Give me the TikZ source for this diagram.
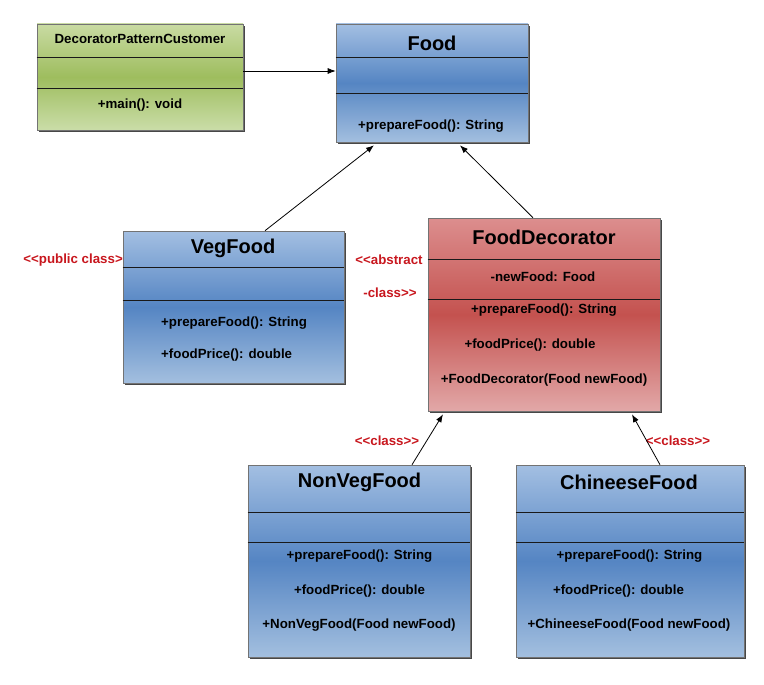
\documentclass[tikz,border=0pt]{standalone}
\usepackage{fontspec}
\setmainfont{Liberation Sans}
\usetikzlibrary{arrows.meta,shadows}
\definecolor{bluetop}{HTML}{A3BFE2}
\definecolor{bluemid}{HTML}{5585C3}
\definecolor{bluebot}{HTML}{A3BFDF}
\definecolor{greentop}{HTML}{C9DBA3}
\definecolor{greenmid}{HTML}{9EBD5E}
\definecolor{greenbot}{HTML}{CADDA8}
\definecolor{redtop}{HTML}{DC8E8E}
\definecolor{redmid}{HTML}{C4524F}
\definecolor{redbot}{HTML}{E2A8A8}
\definecolor{lbl}{HTML}{C8171E}
\begin{document}
\begin{tikzpicture}[x=1pt,y={(0pt,-1pt)},
  umlbox/.style={rectangle,inner sep=0pt,draw=black!55,line width=0.6pt,
    drop shadow={shadow xshift=1.8pt,shadow yshift=-2.2pt,fill=black!80,opacity=0.9}},
  bluebox/.style={umlbox,top color=bluetop,bottom color=bluebot,middle color=bluemid},
  greenbox/.style={umlbox,top color=greentop,bottom color=greenbot,middle color=greenmid},
  redbox/.style={umlbox,top color=redtop,bottom color=redbot,middle color=redmid},
  sepline/.style={draw=black!90,line width=0.8pt},
  ttl/.style={font=\fontsize{20}{22}\selectfont\bfseries,inner sep=0pt},
  ttlsmall/.style={font=\fontsize{13.3}{15}\selectfont\bfseries,inner sep=0pt},
  mem/.style={font=\fontsize{13.3}{15}\selectfont\bfseries,inner sep=0pt},
  stereo/.style={font=\fontsize{13.3}{15}\selectfont\bfseries,text=lbl,inner sep=0pt},
  arr/.style={-{Latex[length=8pt,width=6pt]},line width=0.8pt,black}]
\useasboundingbox (0,0) rectangle (764,685);

% boxes
\node[greenbox,minimum width=206pt,minimum height=106pt] (cust) at (140,77) {};
\node[bluebox,minimum width=192pt,minimum height=118pt] (food) at (432,83) {};
\node[bluebox,minimum width=221pt,minimum height=152pt] (veg) at (233.5,307) {};
\node[redbox,minimum width=232pt,minimum height=193pt] (dec) at (544,314.5) {};
\node[bluebox,minimum width=222pt,minimum height=192pt] (nonveg) at (359,561) {};
\node[bluebox,minimum width=228pt,minimum height=192pt] (chin) at (630,561) {};

% compartment lines
\draw[sepline] (cust.west|-0,57) -- (cust.east|-0,57);
\draw[sepline] (cust.west|-0,88) -- (cust.east|-0,88);
\draw[sepline] (food.west|-0,57) -- (food.east|-0,57);
\draw[sepline] (food.west|-0,93) -- (food.east|-0,93);
\draw[sepline] (veg.west|-0,267) -- (veg.east|-0,267);
\draw[sepline] (veg.west|-0,300) -- (veg.east|-0,300);
\draw[sepline] (dec.west|-0,259) -- (dec.east|-0,259);
\draw[sepline] (dec.west|-0,299) -- (dec.east|-0,299);
\draw[sepline] (nonveg.west|-0,512) -- (nonveg.east|-0,512);
\draw[sepline] (nonveg.west|-0,542) -- (nonveg.east|-0,542);
\draw[sepline] (chin.west|-0,512) -- (chin.east|-0,512);
\draw[sepline] (chin.west|-0,542) -- (chin.east|-0,542);

% texts
\node[ttlsmall] (custT) at (140,39) {DecoratorPatternCustomer};
\node[mem] (custM1) at (140,105) {+main(): void};

\node[ttl] (foodT) at (432,43) {Food};
\node[mem] (foodM1) at (431,126) {+prepareFood(): String};

\node[ttl] (vegT) at (233,248) {VegFood};
\node[mem,anchor=west] (vegM1) at (161,323) {+prepareFood(): String};
\node[mem,anchor=west] (vegM2) at (161,355) {+foodPrice(): double};

\node[ttl] (decT) at (544,237) {FoodDecorator};
\node[mem] (decA1) at (543,277) {-newFood: Food};
\node[mem] (decM1) at (544,310) {+prepareFood(): String};
\node[mem] (decM2) at (530,345) {+foodPrice(): double};
\node[mem] (decM3) at (544,380) {+FoodDecorator(Food newFood)};

\node[ttl] (nonvegT) at (359.5,482) {NonVegFood};
\node[mem] (nonvegM1) at (359.5,556) {+prepareFood(): String};
\node[mem] (nonvegM2) at (359.5,591) {+foodPrice(): double};
\node[mem] (nonvegM3) at (359,625) {+NonVegFood(Food newFood)};

\node[ttl] (chinT) at (629,482) {ChineeseFood};
\node[mem] (chinM1) at (629.5,556) {+prepareFood(): String};
\node[mem] (chinM2) at (618.5,591) {+foodPrice(): double};
\node[mem] (chinM3) at (629,625) {+ChineeseFood(Food newFood)};

% stereotypes
\node[stereo,anchor=east] (stVeg) at (123,260) {<{}<public class>};
\node[stereo] (stDec1) at (389,260) {<{}<abstract};
\node[stereo] (stDec2) at (390,293) {-class>{}>};
\node[stereo] (stNon) at (387,441) {<{}<class>{}>};
\node[stereo] (stChin) at (678,441) {<{}<class>{}>};

% connectors
\draw[arr] (cust.east|-0,71) -- (food.west|-0,71);
\draw[arr] (veg.north-|265,0) -- ([yshift=-3pt]food.south-|374,0);
\draw[arr] (dec.north-|533,0) -- ([yshift=-3pt]food.south-|460,0);
\draw[arr] (nonveg.north-|412,0) -- ([yshift=-3pt]dec.south-|443,0);
\draw[arr] (chin.north-|660,0) -- ([yshift=-3pt]dec.south-|632,0);
\end{tikzpicture}
\end{document}
